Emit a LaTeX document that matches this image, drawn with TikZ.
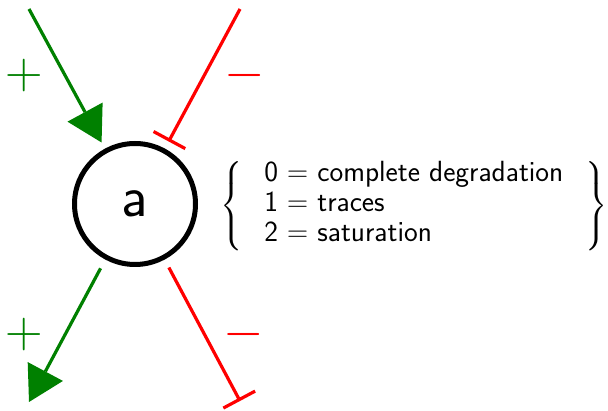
\RequirePackage{fix-cm}
\documentclass[tikz,border=0pt]{standalone}
\usepackage{exscale}
\usetikzlibrary{arrows.meta}
\definecolor{pgreen}{rgb}{0,0.5,0}
\begin{document}
\begin{tikzpicture}[x=1pt,y=1pt,
  actarrow/.style={draw=pgreen, line width=3.2pt, -{Triangle[length=34.6pt,width=40pt,line width=0pt,fill=pgreen]}},
  inharrow/.style={draw=red, line width=3.2pt, -{Bar[width=36pt]}},
  sign/.style={inner sep=0pt, font=\fontsize{52}{52}\selectfont}]
\useasboundingbox (0,0) rectangle (608,-411);
\node[circle, draw, line width=5pt, minimum size=121pt, inner sep=0pt,
      font=\fontsize{58.5}{60}\selectfont\sffamily] (a) at (135,-204) {a};
\coordinate (tl) at (29,-9);
\coordinate (tr) at (240,-9);
\coordinate (bl) at (29,-402);
\coordinate (br) at (240,-401);
\draw[actarrow, shorten >=7pt] (tl) -- (a);
\draw[inharrow, shorten >=8pt] (tr) -- (a);
\draw[actarrow, shorten <=10pt] (a) -- (bl);
\draw[inharrow, shorten <=9pt] (a) -- (br);
\node[sign, text=pgreen] (p1) at (24,-76) {$+$};
\node[sign, text=pgreen] (p2) at (24,-335) {$+$};
\node[sign, text=red] (m1) at (245,-76) {$-$};
\node[sign, text=red] (m2) at (244,-335) {$-$};
\node[anchor=west, inner sep=0pt, font=\fontsize{29.2}{30}\selectfont] (legend) at (220,-206)
  {$\left\{\hspace{22pt}\begin{array}{@{}l@{}}
   \mbox{\sffamily 0 $=$ complete degradation}\\
   \mbox{\sffamily 1 $=$ traces}\\
   \mbox{\sffamily 2 $=$ saturation}
   \end{array}\hspace{22pt}\right\}$};
\end{tikzpicture}
\end{document}
